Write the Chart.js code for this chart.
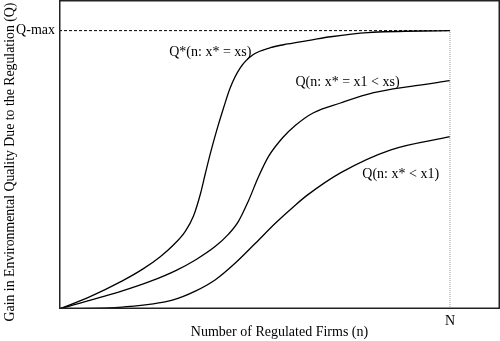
<!DOCTYPE html>
<html lang="en">
<head>
<meta charset="UTF-8">
<title>Regulated Firms and Environmental Quality</title>
<script src="https://cdn.jsdelivr.net/npm/chart.js@4.4.1/dist/chart.umd.min.js"></script>
<style>
  html, body { margin: 0; padding: 0; background: #fff; }
  #wrap { width: 500px; height: 341px; }
</style>
</head>
<body>
<div id="wrap"><canvas id="chart"></canvas></div>
<script>
// n as a share of N, Q as a share of Q-max
const optimalN = [0, 0.074, 0.162, 0.215, 0.259, 0.292, 0.323, 0.344, 0.362, 0.374, 0.387, 0.403, 0.421, 0.438, 0.464, 0.497, 0.541, 0.585, 0.644, 0.695, 0.79, 1];
const optimalQ = [0, 0.041, 0.101, 0.144, 0.188, 0.229, 0.279, 0.334, 0.415, 0.485, 0.558, 0.64, 0.723, 0.795, 0.867, 0.914, 0.939, 0.952, 0.966, 0.978, 0.993, 1];

const midN = [0, 0.162, 0.233, 0.3, 0.35, 0.4, 0.433, 0.459, 0.485, 0.51, 0.536, 0.572, 0.605, 0.651, 0.72, 0.805, 0.9, 1];
const midQ = [0, 0.065, 0.099, 0.139, 0.177, 0.225, 0.268, 0.315, 0.39, 0.474, 0.548, 0.615, 0.66, 0.705, 0.74, 0.777, 0.8, 0.82];

const lowN = [0, 0.162, 0.29, 0.35, 0.4, 0.451, 0.503, 0.554, 0.605, 0.636, 0.721, 0.849, 1];
const lowQ = [0, 0.007, 0.032, 0.065, 0.105, 0.165, 0.237, 0.309, 0.374, 0.41, 0.49, 0.572, 0.619];

const curveNames = ['Q*(n: x* = xs)', 'Q(n: x* = x1 < xs)', 'Q(n: x* < x1)'];
const namePos = [[0.387, 0.921], [0.738, 0.813], [0.874, 0.482]];

const yTitle = 'Gain in Environmental Quality Due to the Regulation (Q)';

const qMax = 1;
const nMax = 1;

const pts = (xs, ys) => xs.map((x, i) => ({ x: x, y: ys[i] }));

const serif = '"Liberation Serif", "DejaVu Serif", serif';

const curve = (data) => ({
  data: data,
  showLine: true,
  borderColor: '#000',
  borderWidth: 1.3,
  pointRadius: 0,
  cubicInterpolationMode: 'monotone',
  fill: false
});

// frame round the plot, curve names and the vertical axis title
const extras = {
  id: 'extras',
  afterDatasetsDraw(chart) {
    const { ctx, chartArea: a, scales } = chart;
    ctx.save();
    ctx.strokeStyle = '#222';
    ctx.lineWidth = 1.5;
    ctx.strokeRect(a.left + 0.75, a.top + 0.75, a.right - a.left - 1.5, a.bottom - a.top - 1.5);
    ctx.fillStyle = '#000';
    ctx.font = '14px ' + serif;
    ctx.textAlign = 'center';
    ctx.textBaseline = 'middle';
    curveNames.forEach((name, i) => {
      ctx.fillText(name, scales.x.getPixelForValue(namePos[i][0]), scales.y.getPixelForValue(namePos[i][1]));
    });
    ctx.font = '13.8px ' + serif;
    ctx.translate(10, 162);
    ctx.rotate(-Math.PI / 2);
    ctx.fillText(yTitle, 0, 0);
    ctx.restore();
  }
};

new Chart(document.getElementById('chart'), {
  type: 'scatter',
  data: {
    datasets: [
      {
        data: [{ x: 0, y: qMax }, { x: nMax, y: qMax }],
        showLine: true,
        borderColor: '#000',
        borderWidth: 1,
        borderDash: [3, 2],
        pointRadius: 0
      },
      {
        data: [{ x: nMax, y: 0 }, { x: nMax, y: qMax }],
        showLine: true,
        borderColor: '#999',
        borderWidth: 1,
        borderDash: [1, 1],
        pointRadius: 0
      },
      curve(pts(optimalN, optimalQ)),
      curve(pts(midN, midQ)),
      curve(pts(lowN, lowQ))
    ]
  },
  options: {
    responsive: true,
    maintainAspectRatio: false,
    animation: false,
    layout: { padding: 0 },
    plugins: {
      legend: { display: false },
      tooltip: { enabled: false }
    },
    scales: {
      x: {
        type: 'linear',
        min: 0,
        max: 1.128,
        grid: { display: false, drawTicks: false },
        border: { display: false },
        afterBuildTicks: (s) => { s.ticks = [{ value: nMax }]; },
        afterFit: (s) => { s.height = 32; s.paddingLeft = 0; s.paddingRight = 0; },
        ticks: {
          color: '#000',
          font: { family: serif, size: 14 },
          padding: 4,
          maxRotation: 0,
          callback: () => 'N'
        },
        title: {
          display: true,
          text: 'Number of Regulated Firms (n)',
          color: '#000',
          font: { family: serif, size: 14 },
          padding: { top: 0, bottom: 0 }
        }
      },
      y: {
        type: 'linear',
        min: 0,
        max: 1.11,
        grid: { display: false, drawTicks: false },
        border: { display: false },
        afterBuildTicks: (s) => { s.ticks = [{ value: qMax }]; },
        afterFit: (s) => { s.width = 59; s.paddingTop = 0; s.paddingBottom = 0; },
        ticks: {
          color: '#000',
          font: { family: serif, size: 14 },
          padding: 4,
          callback: () => 'Q-max'
        }
      }
    }
  },
  plugins: [extras]
});
</script>
</body>
</html>
